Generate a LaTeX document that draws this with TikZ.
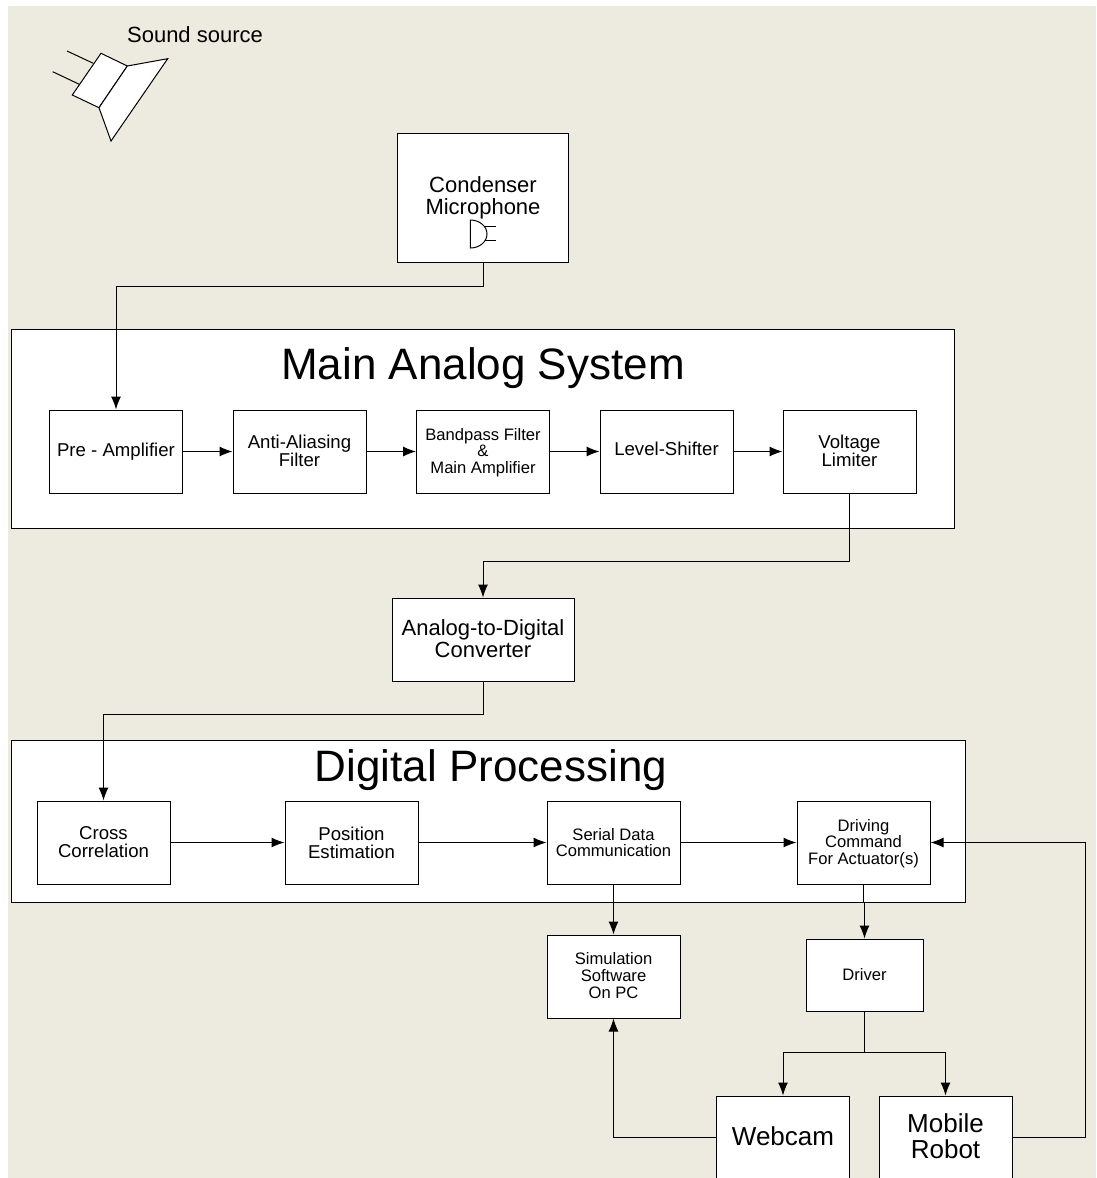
\documentclass[tikz,border=0pt]{standalone}
\usepackage{xcolor}
\usepackage{fontspec}
\setmainfont{Liberation Sans}
\usetikzlibrary{arrows.meta}
\begin{document}
\begin{tikzpicture}[x=1pt,y=-1pt,line width=1pt,>={Latex[length=13pt,width=10pt]},
  blockbox/.style={draw,fill=white,inner sep=0,align=center,minimum width=133,minimum height=83},
  panelbox/.style={draw,fill=white,anchor=north west},
  paneltitle/.style={font=\fontsize{44}{44}\selectfont},
  medtext/.style={font=\fontsize{18.6}{18}\selectfont},
  medlift/.style={medtext,text depth=2},
  smalltext/.style={font=\fontsize{16.6}{16.6}\selectfont},
  smalllow/.style={smalltext,text depth=1.5},
  smalllift/.style={smalltext,text depth=2},
  bigtext/.style={font=\fontsize{22}{22}\selectfont},
  hugetext/.style={font=\fontsize{26}{26}\selectfont,text depth=2}]
\definecolor{paper}{HTML}{EDEADF}
\useasboundingbox (0,0) rectangle (1096,1178);
\fill[paper] (8,6) rectangle (1096,1178);

\draw[fill=white] (101,53.3) -- (127.3,66) -- (99,107.7) -- (72.3,95) -- cycle;
\draw[fill=white] (127.3,66) -- (167.7,58.7) -- (111,141) -- (99,107.7) -- cycle;
\draw (67,51) -- (93.3,63.3);
\draw (52.7,71.7) -- (79.3,84.3);
\node[bigtext] (soundlabel) at (195,35) {Sound source};

\node[blockbox,bigtext,minimum width=171.5,minimum height=129] (mic) at (483,197.5) {Condenser\\Microphone};
\draw (470.3,220) arc (-90:90:16.7 and 14) -- cycle;
\draw (484.5,226.7) -- (495.7,226.7);
\draw (484.5,240.7) -- (495.7,240.7);

\node[panelbox,minimum width=943,minimum height=199] (analog) at (10.5,328.5) {};
\node[paneltitle] (analogtitle) at (483,368) {Main Analog System};
\node[panelbox,minimum width=954,minimum height=162] (digital) at (10.5,739.5) {};
\node[paneltitle] (digitaltitle) at (491,770) {Digital Processing};

\foreach \nme/\pos/\sty/\txt in {preamp/116/medtext/{Pre - Amplifier},antialias/299.5/medlift/{Anti-Aliasing\\Filter},bandpass/483/smalllow/{Bandpass Filter\\\&\\Main Amplifier},shifter/666.5/medtext/{Level-Shifter\strut},limiter/849.5/medlift/{Voltage\\Limiter}}
{  \node [blockbox,\sty] (\nme) at (\pos,451.5) {\txt};}
\foreach \nme/\pos/\sty/\txt in {cross/103.5/medtext/{Cross\\Correlation},position/351.5/medtext/{Position\\Estimation},serial/613.5/smalltext/{Serial Data\\Communication},command/863.5/smalllow/{Driving\\Command\\For Actuator(s)}}
{  \node [blockbox,\sty] (\nme) at (\pos,842.5) {\txt};}

\node[blockbox,bigtext,minimum width=182,text depth=2] (adc) at (483,639.5) {Analog-to-Digital\\Converter};
\node[blockbox,smalllift] (sim) at (613.5,976.5) {Simulation\\Software\\On PC};
\node[blockbox,smalllift,minimum width=117,minimum height=72] (driver) at (864.5,975) {Driver};
\node[blockbox,hugetext] (webcam) at (783,1137.5) {Webcam};
\node[blockbox,hugetext] (robot) at (945.5,1137.5) {Mobile\\Robot};

\draw[->] (mic.south) -- ++(0,24) -| (preamp.north);
\draw[->] (preamp) -- (antialias);
\draw[->] (antialias) -- (bandpass);
\draw[->] (bandpass) -- (shifter);
\draw[->] (shifter) -- (limiter);
\draw[->] (limiter.south) -- ++(0,68) -| (adc.north);
\draw[->] (adc.south) -- ++(0,33) -| (cross.north);
\draw[->] (cross) -- (position);
\draw[->] (position) -- (serial);
\draw[->] (serial) -- (command);
\draw[->] (serial) -- (sim);
\draw[->] (command.south) -- ++(0,18) -| (driver.north);
\draw[->] (driver.south) -- ++(0,41) -| (webcam.north);
\draw[->] (driver.south) -- ++(0,41) -| (robot.north);
\draw[->] (webcam.west) -| (sim.south);
\draw[->] (robot.east) -- ++(73,0) |- (command.east);
\end{tikzpicture}
\end{document}
